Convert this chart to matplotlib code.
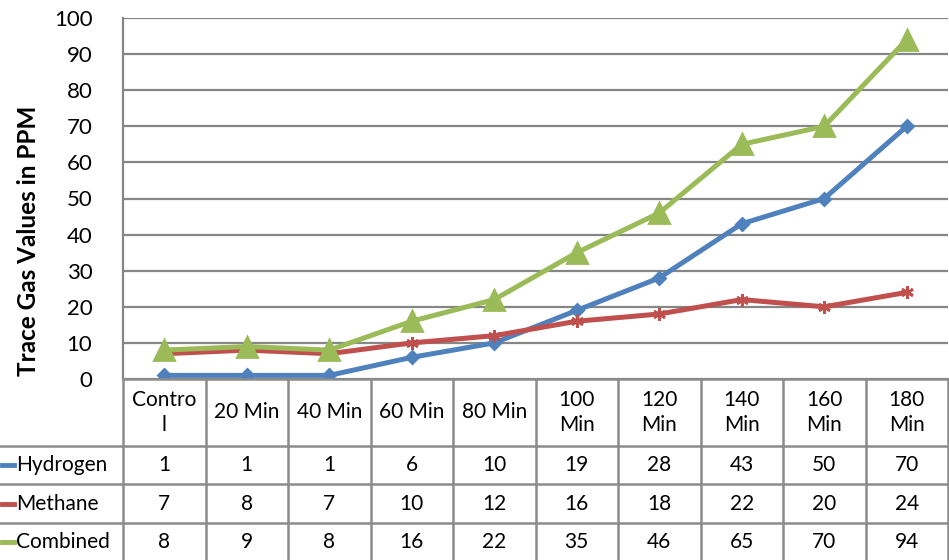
import matplotlib
matplotlib.use("Agg")
import matplotlib.pyplot as plt
from matplotlib.lines import Line2D

plt.rcParams['font.family'] = ['Lato', 'DejaVu Sans']

categories = ["Contro\nl", "20 Min", "40 Min", "60 Min", "80 Min",
              "100\nMin", "120\nMin", "140\nMin", "160\nMin", "180\nMin"]
hydrogen = [1, 1, 1, 6, 10, 19, 28, 43, 50, 70]
methane = [7, 8, 7, 10, 12, 16, 18, 22, 20, 24]
combined = [8, 9, 8, 16, 22, 35, 46, 65, 70, 94]
y_ticks = [0, 10, 20, 30, 40, 50, 60, 70, 80, 90, 100]

series = [
    ("Hydrogen", hydrogen, "#4F81BD", "D", 6),
    ("Methane", methane, "#C0504D", (6, 2, 0), 9),
    ("Combined", combined, "#9BBB59", "^", 15),
]

W, H = 949, 560
fig = plt.figure(figsize=(W / 100, H / 100), dpi=100)


def fx(px):
    return px / W


def fy(py):
    return 1 - py / H


ax_left, ax_right, ax_top, ax_bottom = 123, 948, 18, 379
ax = fig.add_axes([fx(ax_left), fy(ax_bottom), fx(ax_right - ax_left), fy(ax_top) - fy(ax_bottom)])

x = list(range(len(categories)))
for name, vals, color, marker, ms in series:
    ax.plot(x, vals, color=color, lw=3.6, marker=marker, ms=ms, mew=2.0,
            mec=color, zorder=3)

ax.set_xlim(-0.5, len(categories) - 0.5)
ax.set_ylim(0, 100)
ax.set_yticks(y_ticks)
ax.set_xticks([])
ax.yaxis.grid(True, color="#868686", lw=1.6)
ax.set_axisbelow(True)
for s in ["top", "right", "bottom"]:
    ax.spines[s].set_visible(False)
ax.spines["left"].set_color("#868686")
ax.spines["left"].set_linewidth(1.6)
ax.tick_params(axis="y", length=0, labelsize=16, pad=22)
ax.set_ylabel("Trace Gas Values in PPM", fontsize=17.5, fontweight="bold")
ax.yaxis.set_label_coords((40 - ax_left) / (ax_right - ax_left),
                          (ax_bottom - 241) / (ax_bottom - ax_top))

# data table below the axis
grid_c = "#8C8C8C"
col_w = (ax_right - ax_left) / len(categories)
row_edges = [379, 446, 484, 523, 560]


def hline(y, x0, x1):
    fig.add_artist(Line2D([fx(x0), fx(x1)], [fy(y), fy(y)], color=grid_c, lw=1.8))


def vline(xp, y0, y1):
    fig.add_artist(Line2D([fx(xp), fx(xp)], [fy(y0), fy(y1)], color=grid_c, lw=1.8))


hline(379, ax_left, W)
for y in row_edges[1:4]:
    hline(y, 0, W)
for i in range(len(categories) + 1):
    vline(ax_left + i * col_w, 379, 560)

for i, cat in enumerate(categories):
    cx = ax_left + (i + 0.5) * col_w
    fig.text(fx(cx), fy((row_edges[0] + row_edges[1]) / 2), cat, ha="center", va="center",
             fontsize=15, linespacing=1.35)

for r, (name, vals, color, marker, ms) in enumerate(series):
    cy = (row_edges[r + 1] + row_edges[r + 2]) / 2
    fig.add_artist(Line2D([fx(2), fx(14)], [fy(cy), fy(cy)], color=color, lw=3.5))
    fig.text(fx(16), fy(cy), name, ha="left", va="center", fontsize=15)
    for i, v in enumerate(vals):
        cx = ax_left + (i + 0.5) * col_w
        fig.text(fx(cx), fy(cy), str(v), ha="center", va="center", fontsize=15)

fig.savefig("out.png", dpi=100)
